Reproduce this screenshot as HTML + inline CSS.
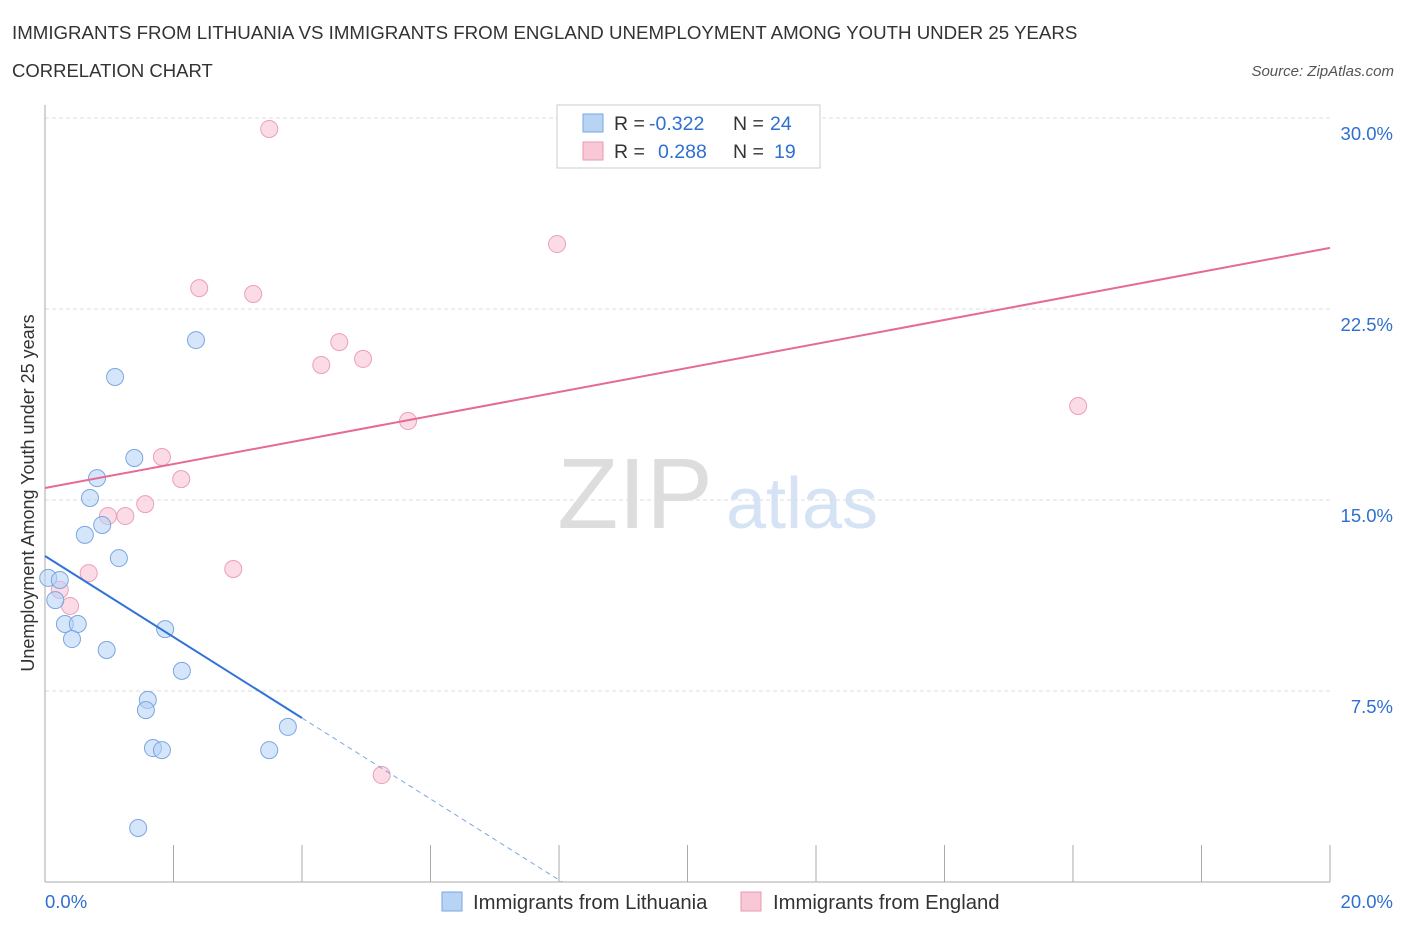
<!DOCTYPE html>
<html><head><meta charset="utf-8"><style>
body{margin:0;background:#fff;font-family:"Liberation Sans",sans-serif}
svg text{font-family:"Liberation Sans",sans-serif}
</style></head><body>
<svg id="c" width="1406" height="930">
<text x="12" y="39" font-size="18.7" fill="#333">IMMIGRANTS FROM LITHUANIA VS IMMIGRANTS FROM ENGLAND UNEMPLOYMENT AMONG YOUTH UNDER 25 YEARS</text>
<text x="12" y="77" font-size="18.5" fill="#333">CORRELATION CHART</text>
<text x="1394" y="76" font-size="15" fill="#555" font-style="italic" text-anchor="end">Source: ZipAtlas.com</text>
<text x="635" y="528" font-size="100" fill="#ddd" font-family="Liberation Serif" text-anchor="middle">ZIP</text>
<text x="802" y="528" font-size="72" fill="#d5e3f5" text-anchor="middle">atlas</text>
<text transform="translate(34,493) rotate(-90)" font-size="18" fill="#333" text-anchor="middle">Unemployment Among Youth under 25 years</text>
<g id="grid"></g><g id="marks"></g>
<g>
<rect x="557" y="105" width="263" height="63" fill="#fff" stroke="#ccc"/>
<rect x="583" y="114" width="20" height="18" fill="#b8d4f5" stroke="#7aa6e0"/>
<text x="614" y="130" font-size="19.5" fill="#333">R =</text>
<text x="649" y="130" font-size="19.5" fill="#2f6fd0">-0.322</text>
<text x="733" y="130" font-size="19.5" fill="#333">N =</text>
<text x="770" y="130" font-size="19.5" fill="#2f6fd0">24</text>
<rect x="583" y="142" width="20" height="18" fill="#f8c8d6" stroke="#e99ab3"/>
<text x="614" y="158" font-size="19.5" fill="#333">R =</text>
<text x="658" y="158" font-size="19.5" fill="#2f6fd0">0.288</text>
<text x="733" y="158" font-size="19.5" fill="#333">N =</text>
<text x="774" y="158" font-size="19.5" fill="#2f6fd0">19</text>
</g>
<g>
<rect x="442" y="892" width="20" height="19" fill="#b8d4f5" stroke="#7aa6e0"/>
<text x="473" y="909" font-size="20.3" fill="#333">Immigrants from Lithuania</text>
<rect x="741" y="892" width="20" height="19" fill="#f8c8d6" stroke="#e99ab3"/>
<text x="773" y="909" font-size="20.3" fill="#333">Immigrants from England</text>
</g>
</svg>
<script>
const yTicks=[7.5,15,22.5,30];
const yTickLabels=["7.5%","15.0%","22.5%","30.0%"];
const blueX=[2.35,1.09,1.39,0.81,0.70,0.89,0.62,1.15,0.05,0.23,0.16,0.31,0.51,0.42,0.96,1.87,2.13,1.60,1.57,1.68,1.82,3.49,3.78,1.45];
const blueY=[21.28,19.83,16.65,15.86,15.08,14.02,13.63,12.72,11.94,11.86,11.07,10.13,10.13,9.54,9.11,9.93,8.29,7.15,6.75,5.26,5.18,5.18,6.09,2.12];
const pinkX=[3.49,7.97,2.40,3.24,4.58,4.95,4.30,5.65,16.08,1.82,2.12,1.56,0.98,1.25,2.93,0.68,0.23,0.39,5.24];
const pinkY=[29.57,25.05,23.32,23.09,21.20,20.54,20.30,18.10,18.69,16.69,15.82,14.84,14.37,14.37,12.29,12.13,11.47,10.84,4.20];
const blueTrend=[12.80,-1.59];
const pinkTrend=[15.47,0.4715];
const NS="http://www.w3.org/2000/svg";
const X=v=>45+v/20*1285, Y=v=>882-v/7.5*191;
function mk(t,a,p){const e=document.createElementNS(NS,t);for(const k in a)e.setAttribute(k,a[k]);p.appendChild(e);return e;}
const g=document.getElementById('grid'), m=document.getElementById('marks');
yTicks.forEach((t,i)=>{
 const l=mk('line',{x1:45,x2:1330,y1:Y(t),y2:Y(t),stroke:'#ddd','stroke-dasharray':'4,3'},g);
 
 
 const tx=mk('text',{x:1393,y:Y(t)+22,'font-size':18.5,fill:'#2f6fd0','text-anchor':'end'},g);tx.textContent=yTickLabels[i];
 
 
});
const ax=mk('line',{x1:45,x2:1330,y1:882,y2:882,stroke:'#aaa'},g);


const ay=mk('line',{x1:45,x2:45,y1:105,y2:882,stroke:'#aaa'},g);


for(let i=1;i<=10;i++){const t=mk('line',{x1:X(i*2),x2:X(i*2),y1:845,y2:882,stroke:'#aaa'},g);
 
 }
[["0.0%",45,"start"],["20.0%",1393,"end"]].forEach(a=>{const t=mk('text',{x:a[1],y:908,'font-size':18.5,fill:'#2f6fd0','text-anchor':a[2]},g);t.textContent=a[0];
 
 });
pinkX.forEach((x,i)=>{const c=mk('circle',{cx:X(x),cy:Y(pinkY[i]),r:8.5,fill:'rgba(248,190,210,0.55)',stroke:'#eaa0b8','stroke-width':1},m);
 
 });
blueX.forEach((x,i)=>{const c=mk('circle',{cx:X(x),cy:Y(blueY[i]),r:8.5,fill:'rgba(180,210,245,0.55)',stroke:'#7aa6e0','stroke-width':1},m);
 
 });
const bx1=4.0,bx2=-blueTrend[0]/blueTrend[1];
const b1=mk('line',{x1:X(0),y1:Y(blueTrend[0]),x2:X(bx1),y2:Y(blueTrend[0]+blueTrend[1]*bx1),stroke:'#2f72d8','stroke-width':2},m);


const b2=mk('line',{x1:X(bx1),y1:Y(blueTrend[0]+blueTrend[1]*bx1),x2:X(bx2),y2:Y(0),stroke:'#7aa6e0','stroke-width':1,'stroke-dasharray':'5,4'},m);


const p1=mk('line',{x1:X(0),y1:Y(pinkTrend[0]),x2:X(20),y2:Y(pinkTrend[0]+pinkTrend[1]*20),stroke:'#e56a95','stroke-width':2},m);


</script>
</body></html>
